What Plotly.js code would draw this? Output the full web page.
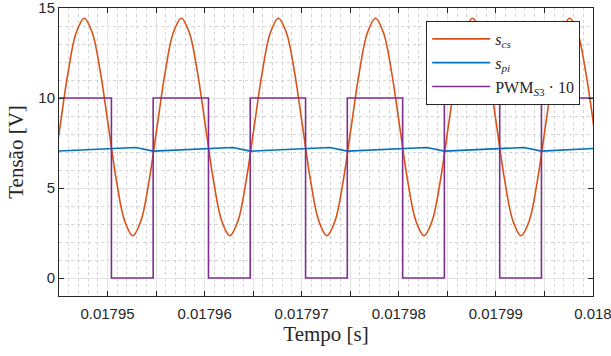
<!DOCTYPE html>
<html>
<head>
<meta charset="utf-8">
<script src="https://cdn.plot.ly/plotly-3.0.1.min.js"></script>
<style>html,body{margin:0;padding:0;background:#fff;}#chart{width:611px;height:356px;}</style>
</head>
<body>
<div id="chart"></div>
<script>
// s_cs (orange) samples
const tCs = [0.01794427, 0.0179451, 0.01794593, 0.01794677,
  0.0179476, 0.01794843, 0.01794927, 0.0179501, 0.01795093, 0.01795177, 0.0179526, 0.01795343, 0.01795427, 0.0179551, 0.01795593, 0.01795677,
  0.0179576, 0.01795843, 0.01795927, 0.0179601, 0.01796093, 0.01796177, 0.0179626, 0.01796343, 0.01796427, 0.0179651, 0.01796593, 0.01796677,
  0.0179676, 0.01796843, 0.01796927, 0.0179701, 0.01797093, 0.01797177, 0.0179726, 0.01797343, 0.01797427, 0.0179751, 0.01797593, 0.01797677,
  0.0179776, 0.01797843, 0.01797927, 0.0179801, 0.01798093, 0.01798177, 0.0179826, 0.01798343, 0.01798427, 0.0179851, 0.01798593, 0.01798677,
  0.0179876, 0.01798843, 0.01798927, 0.0179901, 0.01799093, 0.01799177, 0.0179926, 0.01799343, 0.01799427, 0.0179951, 0.01799593, 0.01799677,
  0.0179976, 0.01799843, 0.01799927, 0.0180001];
const vCs = [5.37, 8.39, 11.41, 13.62,
  14.43, 13.62, 11.41, 8.39, 5.37, 3.16, 2.35, 3.16, 5.37, 8.39, 11.41, 13.62,
  14.43, 13.62, 11.41, 8.39, 5.37, 3.16, 2.35, 3.16, 5.37, 8.39, 11.41, 13.62,
  14.43, 13.62, 11.41, 8.39, 5.37, 3.16, 2.35, 3.16, 5.37, 8.39, 11.41, 13.62,
  14.43, 13.62, 11.41, 8.39, 5.37, 3.16, 2.35, 3.16, 5.37, 8.39, 11.41, 13.62,
  14.43, 13.62, 11.41, 8.39, 5.37, 3.16, 2.35, 3.16, 5.37, 8.39, 11.41, 13.62,
  14.43, 13.62, 11.41, 8.39];

// s_pi (blue)
const tPi = [0.0179447, 0.0179503, 0.0179529, 0.0179547, 0.0179603, 0.0179629, 0.0179647,
  0.0179703, 0.0179729, 0.0179747, 0.0179803, 0.0179829, 0.0179847, 0.0179903, 0.0179929,
  0.0179947, 0.0180003];
const vPi = [7.05, 7.20, 7.25, 7.05, 7.20, 7.25, 7.05,
  7.20, 7.25, 7.05, 7.20, 7.25, 7.05, 7.20, 7.25,
  7.05, 7.20];

// PWM_S3 * 10 (purple)
const tPwm = [0.017945, 0.0179504, 0.0179547, 0.0179604, 0.0179647, 0.0179704, 0.0179747,
  0.0179804, 0.0179847, 0.0179904, 0.0179947, 0.018];
const vPwm = [10, 0, 10, 0, 10, 0, 10, 0, 10, 0, 10, 10];

const xTickVals = [0.01795, 0.017955, 0.01796, 0.017965, 0.01797, 0.017975, 0.01798, 0.017985, 0.01799, 0.017995, 0.018];
const xTickText = ['0.01795', '', '0.01796', '', '0.01797', '', '0.01798', '', '0.01799', '', '0.018'];
const yTickVals = [0, 5, 10, 15];
const yTickText = ['0', '5', '10', '15'];

const axisCol = '#262626';
const gridCol = '#e3e3e3';
const minorCol = '#d4d4d4';
const serif = 'Liberation Serif, DejaVu Serif, serif';
const sans = 'Liberation Sans, Arial, sans-serif';

const traces = [
  {x: tCs, y: vCs, type: 'scatter', mode: 'lines', name: '<i>s</i><sub><i>cs</i></sub>',
   line: {color: '#D95319', width: 1.6, shape: 'spline', smoothing: 1}},
  {x: tPi, y: vPi, type: 'scatter', mode: 'lines', name: '<i>s</i><sub><i>pi</i></sub>',
   line: {color: '#0072BD', width: 1.6}},
  {x: tPwm, y: vPwm, type: 'scatter', mode: 'lines', name: 'PWM<sub><i>S</i>3</sub> · 10',
   line: {color: '#7E2F8E', width: 1.6, shape: 'hv'}}
];

const layout = {
  width: 611, height: 356,
  margin: {l: 59, r: 18, t: 8, b: 60},
  paper_bgcolor: '#fff', plot_bgcolor: '#fff',
  showlegend: true,
  legend: {x: 0.976, xanchor: 'right', y: 0.955, yanchor: 'top',
    bgcolor: '#fff', bordercolor: axisCol, borderwidth: 1, itemwidth: 58,
    font: {family: serif, size: 16, color: axisCol}, tracegroupgap: 0},
  xaxis: {range: [0.017945, 0.01800001], tickmode: 'array', tickvals: xTickVals, ticktext: xTickText,
    ticks: 'inside', ticklen: 5, tickwidth: 1, tickcolor: axisCol, ticklabelstandoff: 4,
    ticklabeloverflow: 'allow',
    showline: true, linecolor: axisCol, linewidth: 1, mirror: 'ticks',
    showgrid: true, gridcolor: gridCol, gridwidth: 1, zeroline: false,
    minor: {tick0: 0.01795, dtick: 0.000001, showgrid: true, gridcolor: minorCol, griddash: 'dot', gridwidth: 1, ticks: ''},
    tickfont: {family: sans, size: 15, color: axisCol},
    title: {text: 'Tempo [s]', font: {family: serif, size: 21, color: axisCol}, standoff: 5}},
  yaxis: {range: [-1, 15.0001], tickmode: 'array', tickvals: yTickVals, ticktext: yTickText,
    ticks: 'inside', ticklen: 5, tickwidth: 1, tickcolor: axisCol,
    ticklabeloverflow: 'allow',
    showline: true, linecolor: axisCol, linewidth: 1, mirror: 'ticks',
    showgrid: true, gridcolor: gridCol, gridwidth: 1, zeroline: false,
    minor: {tick0: 0, dtick: 1, showgrid: true, gridcolor: minorCol, griddash: 'dot', gridwidth: 1, ticks: ''},
    tickfont: {family: sans, size: 15, color: axisCol},
    title: {text: 'Tensão [V]', font: {family: serif, size: 21, color: axisCol}, standoff: 8}}
};

Plotly.newPlot('chart', traces, layout, {displayModeBar: false, staticPlot: true});
</script>
</body>
</html>
